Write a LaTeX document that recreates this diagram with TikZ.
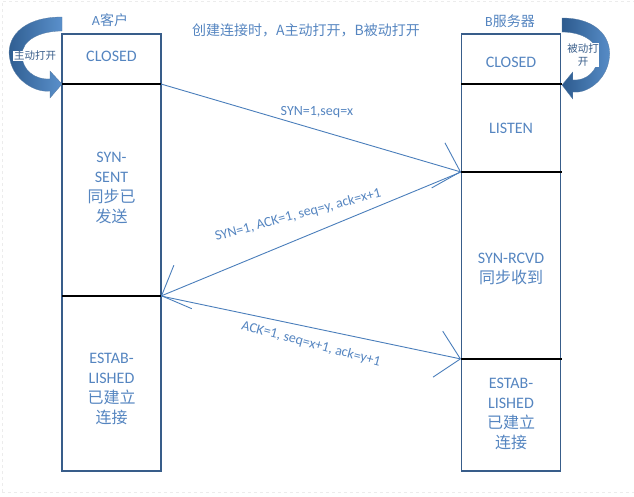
\documentclass[tikz,border=0pt]{standalone}
\usepackage{fontspec}
\setmainfont{Carlito}
\newfontfamily\cjk{Noto Sans CJK SC}
\usetikzlibrary{arrows.meta}
\definecolor{txtblue}{HTML}{5585C0}
\definecolor{lineblue}{HTML}{4A7EBB}
\definecolor{boxborder}{HTML}{385D8A}
\definecolor{arrdark}{HTML}{2D5B8E}
\definecolor{arrlight}{HTML}{5A90CB}
\tikzset{
  column/.style={draw=boxborder, line width=1.1pt, minimum width=99pt, inner sep=0pt},
  divider/.style={draw=black, line width=1.1pt},
  statetext/.style={text=txtblue, align=center, font=\fontsize{16}{20}\selectfont, inner sep=0pt},
  headtext/.style={text=txtblue, font=\fontsize{14}{18}\selectfont, inner sep=0pt},
  msgtext/.style={text=txtblue, font=\fontsize{14}{16}\selectfont, inner sep=0pt},
  msg/.style={draw=lineblue, line width=0.9pt, -{Straight Barb[length=23pt,width=47pt,line width=0.9pt]}},
  opentext/.style={text=boxborder, fill=white, inner sep=0.6pt, align=center, font=\fontsize{10.5}{13}\selectfont\cjk},
  bentarrow/.style={left color=arrdark, right color=arrlight, draw=arrdark!80, line width=0.3pt}
}
\newcommand{\bentarrowshape}{%
  (0,-67) .. controls (-42,-67) and (-57,-44) .. (-52,-24)
  .. controls (-48,-4) and (-27,9) .. (-12,7)
  -- (-12,14) -- (0,0) -- (-12,-13) -- (-12,-5)
  .. controls (-27,-4) and (-40,-14) .. (-40,-29)
  .. controls (-40,-44) and (-22,-53) .. (0,-53) -- cycle}
\begin{document}
\begin{tikzpicture}[x=1pt,y=-1pt]
\useasboundingbox (0,0) rectangle (634,496);
% faint page frame
\draw[gray!15, dashed, line width=0.6pt] (2,492) -- (2,1) -- (634,1);
\draw[gray!15, dashed, line width=0.6pt] (2,492) -- (634,492);

% columns
\node[column, minimum height=437pt] (colA) at (111.5,252.5) {};
\node[column, minimum height=437pt] (colB) at (511,252.5) {};

% dividers / state boundaries
\coordinate (a1) at (161,84);
\coordinate (a2) at (161,296);
\coordinate (b1) at (461,84);
\coordinate (b2) at (461,172);
\coordinate (b3) at (461,359);
\draw[divider] (62,84) -- (a1);
\draw[divider] (62,296) -- (a2);
\draw[divider] (b1) -- (562,84);
\draw[divider] (b2) -- (562,172);
\draw[divider] (b3) -- (562,359);

% headers
\node[headtext] (hA) at (110,20) {A{\cjk 客户}};
\node[headtext] (hB) at (510,21) {B{\cjk 服务器}};
\node[headtext] (title) at (306,30) {\cjk 创建连接时，A主动打开，B被动打开};

% state texts
\node[statetext] (sA1) at (111.5,56) {CLOSED};
\node[statetext] (sA2) at (111.5,188) {SYN-\\SENT\\{\cjk 同步已}\\{\cjk 发送}};
\node[statetext] (sA3) at (111.5,389) {ESTAB-\\LISHED\\{\cjk 已建立}\\{\cjk 连接}};
\node[statetext] (sB1) at (511,62) {CLOSED};
\node[statetext] (sB2) at (511,128) {LISTEN};
\node[statetext] (sB3) at (511,269) {SYN-RCVD\\{\cjk 同步收到}};
\node[statetext] (sB4) at (511,413.5) {ESTAB-\\LISHED\\{\cjk 已建立}\\{\cjk 连接}};

% messages
\draw[msg] (a1) -- (b2);
\draw[msg] (b2) -- (a2);
\draw[msg] (a2) -- (b3);
\node[msgtext] (m1) at (317,112) {SYN=1,seq=x};
\node[msgtext, rotate=15] (m2) at (298,215) {SYN=1, ACK=1, seq=y, ack=x+1};
\node[msgtext, rotate=-15] (m3) at (311,344) {ACK=1, seq=x+1, ack=y+1};

% curved "open" arrows
\begin{scope}[shift={(62,84)}]
  \shade[bentarrow] \bentarrowshape;
\end{scope}
\begin{scope}[shift={(562,85)}, xscale=-0.9]
  \shade[bentarrow] \bentarrowshape;
\end{scope}
\node[opentext] (openA) at (35,56) {主动打开};
\node[opentext] (openB) at (583,55) {被动打\\开};
\end{tikzpicture}
\end{document}
